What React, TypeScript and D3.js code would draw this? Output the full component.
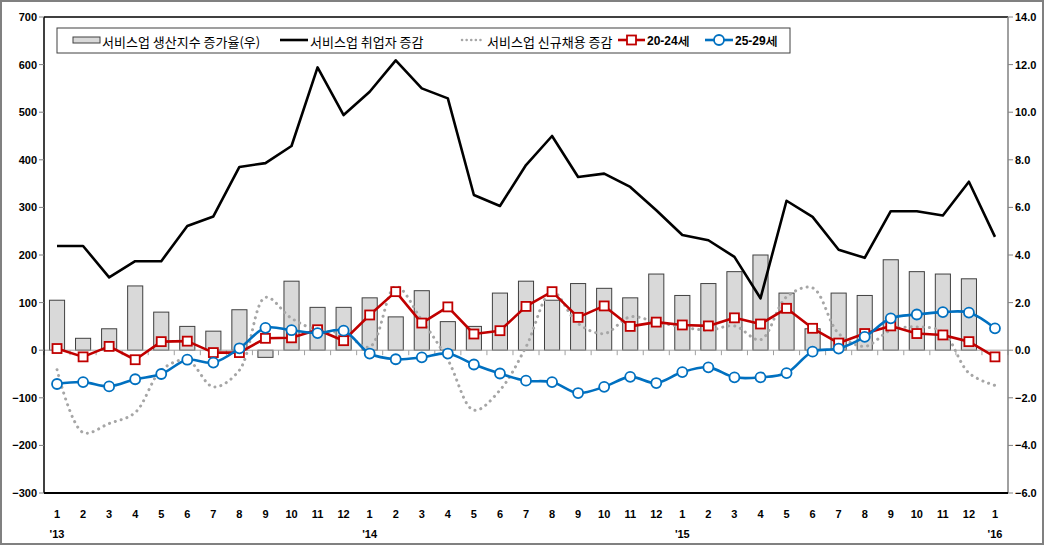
import React from "react";
import * as d3 from "d3";

const monthLabels: string[] = [
  "1","2","3","4","5","6","7","8","9","10","11","12",
  "1","2","3","4","5","6","7","8","9","10","11","12",
  "1","2","3","4","5","6","7","8","9","10","11","12",
  "1",
];
const yearLabels: { index: number; label: string }[] = [
  { index: 0, label: "'13" },
  { index: 12, label: "'14" },
  { index: 24, label: "'15" },
  { index: 36, label: "'16" },
];

// 서비스업 생산지수 증가율 (right axis, %)
const prodIndexGrowth: (number | null)[] = [
  2.1, 0.5, 0.9, 2.7, 1.6, 1.0, 0.8, 1.7, -0.3, 2.9, 1.8, 1.8,
  2.2, 1.4, 2.5, 1.2, 1.0, 2.4, 2.9, 2.1, 2.8, 2.6, 2.2, 3.2,
  2.3, 2.8, 3.3, 4.0, 2.4, 0.9, 2.4, 2.3, 3.8, 3.3, 3.2, 3.0, null,
];
// 서비스업 취업자 증감 (left axis, 천명)
const employment: number[] = [
  219, 219, 153, 187, 187, 261, 281, 385, 393, 429, 594, 494,
  543, 609, 550, 529, 326, 303, 389, 450, 364, 371, 343, 294,
  242, 231, 196, 109, 314, 280, 211, 194, 292, 292, 283, 354, 238,
];
// 서비스업 신규채용 증감
const newHires: number[] = [
  -41, -173, -154, -131, -42, -21, -77, -42, 111, 67, 42, 35,
  7, 134, 63, -20, -126, -84, 7, 123, 56, 35, 70, 59,
  49, 42, 51, 22, 112, 131, 35, 8, 42, 49, 38, -48, -74,
];
// 20-24세
const age20to24: number[] = [
  3.5, -14, 8, -20, 18, 19, -5, -5, 25, 26, 43, 20,
  74, 123, 57, 91, 34, 41, 92, 123, 69, 93, 50, 59,
  53, 51, 68, 55, 88, 46, 15, 35, 51, 35, 32, 18, -14,
];
// 25-29세
const age25to29: number[] = [
  -71, -67, -76, -61, -50, -20, -26, 4, 47, 42, 36, 41,
  -7, -19, -15, -7, -30, -49, -64, -67, -90, -77, -56, -69,
  -46, -36, -57, -57, -48, -3, 3.5, 28, 67, 75, 80, 79, 46,
];

const leftTicks: number[] = [-300, -200, -100, 0, 100, 200, 300, 400, 500, 600, 700];
const rightTicks: number[] = [-6, -4, -2, 0, 2, 4, 6, 8, 10, 12, 14];

const W = 1045;
const H = 546;
const L = 44, R = 1008, T = 17, B = 493;

const tickFont = "'Liberation Sans', Arial, sans-serif";
const krFont = "'Noto Sans CJK KR', 'Noto Sans', sans-serif";

export default function App() {
  const idx = d3.range(monthLabels.length);
  const x = d3.scaleBand<number>().domain(idx).range([L, R]).paddingInner(0.42).paddingOuter(0.21);
  const cx = (i: number) => (x(i) as number) + x.bandwidth() / 2;
  const yL = d3.scaleLinear().domain([-300, 700]).range([B, T]);
  const yR = d3.scaleLinear().domain([-6, 14]).range([B, T]);
  const step = x.step();

  const straight = d3.line<number>().x((_, i) => cx(i)).y((d) => yL(d));
  const smooth = d3.line<number>().x((_, i) => cx(i)).y((d) => yL(d)).curve(d3.curveCatmullRom.alpha(0.5));

  const zeroY = yL(0);

  return (
    <div style={{ position: "fixed", left: 0, top: 0 }}>
      <svg width={W} height={H} style={{ display: "block", background: "#fff" }}>
        <rect x={1} y={1} width={W - 3} height={H - 3} fill="#fff" stroke="#808080" strokeWidth={2} />

        {/* bars */}
        {prodIndexGrowth.map((v, i) =>
          v === null ? null : (
            <rect
              key={"b" + i}
              x={x(i)}
              y={Math.min(yR(v), yR(0))}
              width={x.bandwidth()}
              height={Math.abs(yR(v) - yR(0))}
              fill="#d9d9d9"
              stroke="#404040"
              strokeWidth={1}
            />
          )
        )}

        {/* zero line with category ticks */}
        <line x1={L} x2={R} y1={zeroY} y2={zeroY} stroke="#a0a0a0" strokeWidth={1} />
        {d3.range(monthLabels.length + 1).map((i) => (
          <line key={"zt" + i} x1={L + i * step} x2={L + i * step} y1={zeroY} y2={zeroY + 5} stroke="#a0a0a0" strokeWidth={1} />
        ))}

        {/* dotted new hires */}
        <path
          d={smooth(newHires) || ""}
          fill="none"
          stroke="#a6a6a6"
          strokeWidth={3}
          strokeDasharray="0.1 6"
          strokeLinecap="round"
        />
        {/* employment */}
        <path d={straight(employment) || ""} fill="none" stroke="#000" strokeWidth={2.6} strokeLinejoin="round" />
        {/* 20-24 */}
        <path d={straight(age20to24) || ""} fill="none" stroke="#c00000" strokeWidth={2.6} strokeLinejoin="round" />
        {age20to24.map((v, i) => (
          <rect key={"r" + i} x={cx(i) - 4.5} y={yL(v) - 4.5} width={9} height={9} fill="#fff" stroke="#c00000" strokeWidth={1.8} />
        ))}
        {/* 25-29 */}
        <path d={smooth(age25to29) || ""} fill="none" stroke="#0070c0" strokeWidth={2.6} strokeLinejoin="round" />
        {age25to29.map((v, i) => (
          <circle key={"c" + i} cx={cx(i)} cy={yL(v)} r={5} fill="#fff" stroke="#0070c0" strokeWidth={1.8} />
        ))}

        {/* plot frame */}
        <line x1={L} x2={R} y1={T} y2={T} stroke="#000" strokeWidth={1.5} />
        <line x1={L} x2={L} y1={T} y2={B} stroke="#000" strokeWidth={1.5} />
        <line x1={R} x2={R} y1={T} y2={B} stroke="#808080" strokeWidth={1.5} />
        <line x1={L} x2={R} y1={B} y2={B} stroke="#000" strokeWidth={2} />

        {/* left axis */}
        {leftTicks.map((t) => (
          <g key={"lt" + t}>
            <line x1={L - 5} x2={L} y1={yL(t)} y2={yL(t)} stroke="#808080" strokeWidth={1} />
            <text x={L - 7} y={yL(t)} textAnchor="end" dominantBaseline="central" fontFamily={tickFont} fontWeight="bold" fontSize={11} fill="#000">
              {d3.format("d")(t)}
            </text>
          </g>
        ))}
        {/* right axis */}
        {rightTicks.map((t) => (
          <g key={"rt" + t}>
            <line x1={R} x2={R + 5} y1={yR(t)} y2={yR(t)} stroke="#808080" strokeWidth={1} />
            <text x={R + 7} y={yR(t)} textAnchor="start" dominantBaseline="central" fontFamily={tickFont} fontWeight="bold" fontSize={11} fill="#000">
              {d3.format(".1f")(t)}
            </text>
          </g>
        ))}
        {/* x labels */}
        {monthLabels.map((m, i) => (
          <text key={"m" + i} x={cx(i)} y={514} textAnchor="middle" dominantBaseline="central" fontFamily={tickFont} fontWeight="bold" fontSize={11} fill="#000">
            {m}
          </text>
        ))}
        {yearLabels.map((yl) => (
          <text key={"y" + yl.index} x={cx(yl.index)} y={534} textAnchor="middle" dominantBaseline="central" fontFamily={tickFont} fontWeight="bold" fontSize={11} fill="#000">
            {yl.label}
          </text>
        ))}

        {/* legend */}
        <g>
          <rect x={57} y={28} width={733} height={25} fill="#fff" stroke="#404040" strokeWidth={1} />
          <rect x={73} y={37} width={27} height={6} fill="#d9d9d9" stroke="#404040" strokeWidth={1} />
          <text x={102} y={41} dominantBaseline="central" fontFamily={krFont} fontSize={13} fill="#000">서비스업 생산지수 증가율(우)</text>
          <line x1={280} x2={308} y1={40} y2={40} stroke="#000" strokeWidth={2.6} />
          <text x={310} y={41} dominantBaseline="central" fontFamily={krFont} fontSize={13} fill="#000">서비스업 취업자 증감</text>
          <line x1={462} x2={485} y1={40} y2={40} stroke="#a6a6a6" strokeWidth={2.5} strokeDasharray="0.1 4.5" strokeLinecap="round" />
          <text x={487} y={41} dominantBaseline="central" fontFamily={krFont} fontSize={13} fill="#000">서비스업 신규채용 증감</text>
          <line x1={618} x2={645} y1={40} y2={40} stroke="#c00000" strokeWidth={2.6} />
          <rect x={627} y={35.5} width={9} height={9} fill="#fff" stroke="#c00000" strokeWidth={1.8} />
          <text x={647} y={41} dominantBaseline="central" fontFamily={tickFont} fontWeight="bold" fontSize={12} fill="#000">20-24세</text>
          <line x1={705} x2={733} y1={40} y2={40} stroke="#0070c0" strokeWidth={2.6} />
          <circle cx={719} cy={40} r={5} fill="#fff" stroke="#0070c0" strokeWidth={1.8} />
          <text x={735} y={41} dominantBaseline="central" fontFamily={tickFont} fontWeight="bold" fontSize={12} fill="#000">25-29세</text>
        </g>
      </svg>
    </div>
  );
}
